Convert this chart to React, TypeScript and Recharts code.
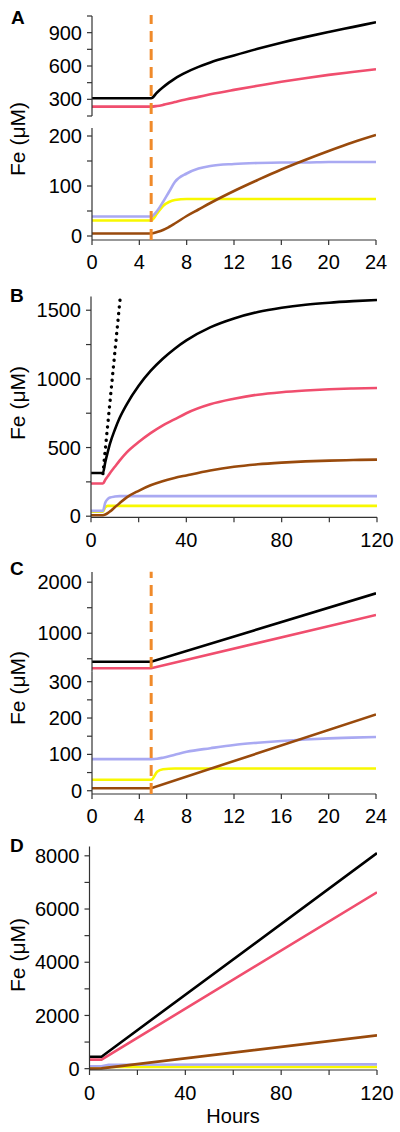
import React from 'react';
import { LineChart, Line, XAxis, YAxis } from 'recharts';

// ---------- data (Fe in µM vs hours) ----------
const treatmentHour = 5;

// Panel A
const hoursA = [0, 5, 5.5, 6, 6.5, 7, 8, 9, 10, 12, 14, 16, 18, 20, 22, 24];
const blackA = [310, 310, 362, 408, 450, 487, 545, 592, 632, 695, 755, 810, 860, 906, 950, 994];
const pinkA = [234, 234, 240, 250, 262, 275, 300, 322, 345, 385, 422, 458, 490, 520, 546, 571];
const lavenderA = [39, 39, 50, 68, 88, 108, 125, 135, 140, 144, 146, 147, 147, 148, 148, 148];
const yellowA = [31, 31, 45, 60, 68, 72, 74, 74, 74, 74, 74, 74, 74, 74, 74, 74];
const brownA = [5, 5, 8, 12, 18, 25, 40, 53, 66, 90, 112, 133, 152, 170, 187, 202];

// Panel B
const hoursB = [0, 5, 6, 7, 8, 10, 12, 15, 20, 25, 30, 35, 40, 50, 60, 70, 80, 90, 100, 110, 120];
const blackB = [315, 315, 395, 465, 530, 630, 715, 815, 950, 1058, 1145, 1218, 1280, 1375, 1440, 1487, 1518, 1540, 1555, 1566, 1575];
const pinkB = [238, 238, 265, 290, 315, 360, 405, 465, 540, 605, 660, 705, 750, 815, 855, 885, 903, 915, 924, 930, 934];
const brownB = [7, 7, 12, 22, 35, 65, 95, 137, 185, 225, 255, 278, 297, 333, 360, 378, 390, 399, 405, 409, 412];
const lavenderB = [39, 39, 100, 125, 136, 143, 146, 146, 146, 146, 146, 146, 146, 146, 146, 146, 146, 146, 146, 146, 146];
const yellowB = [33, 33, 65, 75, 75, 75, 75, 75, 75, 75, 75, 75, 75, 75, 75, 75, 75, 75, 75, 75, 75];
const dottedHoursB = [5, 12.3];
const dottedB = [310, 1600];

// Panel C
const kinkHoursC = [0, 5, 24];
const blackC = [442, 442, 1783];
const pinkC = [313, 313, 1359];
const brownC = [7, 7, 210];
const hoursC = [0, 5, 5.5, 6, 7, 8, 10, 12, 14, 16, 18, 20, 22, 24];
const lavenderC = [87, 87, 88, 91, 99, 107, 117, 126, 132, 137, 141, 144, 146, 148];
const yellowC = [30, 30, 52, 59, 61, 61, 61, 61, 61, 61, 61, 61, 61, 61];

// Panel D
const kinkHoursD = [0, 5, 120];
const blackD = [450, 450, 8100];
const pinkD = [340, 340, 6630];
const brownD = [0, 10, 1250];
const hoursDLow = [0, 5, 8, 120];
const lavenderD = [90, 90, 150, 160];
const yellowD = [30, 30, 60, 60];

// ticks
const xTicks24 = [0, 4, 8, 12, 16, 20, 24];
const xTicks120 = [0, 20, 40, 60, 80, 100, 120];
const yTicksATop = [150, 300, 450, 600, 750, 900, 1050];
const yTicksABottom = [0, 50, 100, 150, 200];
const yTicksB = [0, 250, 500, 750, 1000, 1250, 1500];
const yTicksCTop = [500, 1000, 1500, 2000];
const yTicksCBottom = [0, 50, 100, 150, 200, 250, 300];
const yTicksD = [0, 1000, 2000, 3000, 4000, 5000, 6000, 7000, 8000];

// ---------- styles ----------
const FONT = '"Liberation Sans", Arial, Helvetica, sans-serif';
const AXIS = '#333';
const C_BLACK = '#000000';
const C_PINK = '#f04e6e';
const C_LAV = '#a9a9f2';
const C_YEL = '#f8f800';
const C_BROWN = '#994a0c';
const C_ORANGE = '#f08a2a';

type Pt = { t: number; v: number };
const zip = (h: number[], v: number[]): Pt[] => h.map((t, i) => ({ t, v: v[i] }));

type Series = {
  data: Pt[];
  color: string;
  dash?: string;
  width?: number;
  key: string;
  curve?: 'monotone' | 'linear';
  cap?: 'round' | 'butt';
};

type StripProps = {
  plotTop: number;
  plotBottom: number;
  plotLeft: number;
  plotRight: number;
  xDomain: [number, number];
  xTicks: number[];
  xLabelStep: number;
  showX: boolean;
  xTickMargin?: number;
  yDomain: [number, number];
  yTicks: number[];
  yLabelStep: number;
  series: Series[];
};

function Strip(p: StripProps) {
  const xAxisH = 30;
  const height = p.showX ? p.plotBottom + xAxisH + 10 : p.plotBottom + 4;
  const margin = {
    top: p.plotTop,
    right: 400 - p.plotRight,
    left: 0,
    bottom: height - p.plotBottom - (p.showX ? xAxisH : 0),
  };
  const tickStyle = { fontSize: 20, fill: '#000', fontFamily: FONT };
  return (
    <div style={{ position: 'absolute', left: 0, top: 0, width: 400, height }}>
      <LineChart width={400} height={height} margin={margin}>
        <XAxis
          type="number"
          dataKey="t"
          domain={p.xDomain}
          ticks={p.xTicks}
          interval={0}
          allowDataOverflow
          hide={!p.showX}
          height={xAxisH}
          tickSize={5}
          tickMargin={p.xTickMargin ?? 10}
          tick={tickStyle}
          tickFormatter={(v: number) => (v % p.xLabelStep === 0 ? String(v) : '')}
          axisLine={{ stroke: AXIS, strokeWidth: 1.2 }}
          tickLine={{ stroke: AXIS, strokeWidth: 1.2 }}
        />
        <YAxis
          type="number"
          domain={p.yDomain}
          ticks={p.yTicks}
          interval={0}
          allowDataOverflow
          width={p.plotLeft}
          tickSize={5}
          tickMargin={5}
          tick={tickStyle}
          tickFormatter={(v: number) => (v % p.yLabelStep === 0 ? String(v) : '')}
          axisLine={{ stroke: AXIS, strokeWidth: 1.2 }}
          tickLine={{ stroke: AXIS, strokeWidth: 1.2 }}
        />
        {p.series.map((s) => (
          <Line
            key={s.key}
            data={s.data}
            dataKey="v"
            type={s.curve ?? 'monotone'}
            stroke={s.color}
            strokeWidth={s.width ?? 2.6}
            strokeDasharray={s.dash}
            strokeLinecap={s.cap ?? 'butt'}
            dot={false}
            activeDot={false}
            isAnimationActive={false}
          />
        ))}
      </LineChart>
    </div>
  );
}

function DashOverlay(p: { top: number; bottom: number; left: number; right: number; xDomain: [number, number] }) {
  const height = p.bottom + 2;
  return (
    <div style={{ position: 'absolute', left: 0, top: 0, width: 400, height }}>
      <LineChart
        width={400}
        height={height}
        margin={{ top: p.top, bottom: height - p.bottom, left: p.left, right: 400 - p.right }}
      >
        <XAxis type="number" dataKey="t" domain={p.xDomain} allowDataOverflow hide />
        <YAxis type="number" domain={[0, 1]} allowDataOverflow hide />
        <Line
          data={zip([treatmentHour, treatmentHour], [0, 1])}
          dataKey="v"
          type="linear"
          stroke={C_ORANGE}
          strokeWidth={3}
          strokeDasharray="11 7"
          dot={false}
          activeDot={false}
          isAnimationActive={false}
        />
      </LineChart>
    </div>
  );
}

export default function App() {
  const lowA: Series[] = [
    { key: 'yA', data: zip(hoursA, yellowA), color: C_YEL },
    { key: 'lA', data: zip(hoursA, lavenderA), color: C_LAV },
    { key: 'bA', data: zip(hoursA, brownA), color: C_BROWN },
  ];
  const highA: Series[] = [
    { key: 'pA', data: zip(hoursA, pinkA), color: C_PINK },
    { key: 'kA', data: zip(hoursA, blackA), color: C_BLACK },
  ];
  const seriesB: Series[] = [
    { key: 'yB', data: zip(hoursB, yellowB), color: C_YEL },
    { key: 'lB', data: zip(hoursB, lavenderB), color: C_LAV },
    { key: 'bB', data: zip(hoursB, brownB), color: C_BROWN },
    { key: 'pB', data: zip(hoursB, pinkB), color: C_PINK },
    { key: 'kB', data: zip(hoursB, blackB), color: C_BLACK },
    { key: 'dB', data: zip(dottedHoursB, dottedB), color: C_BLACK, dash: '0.1 6.6', width: 3.4, curve: 'linear', cap: 'round' },
  ];
  const lowC: Series[] = [
    { key: 'yC', data: zip(hoursC, yellowC), color: C_YEL },
    { key: 'lC', data: zip(hoursC, lavenderC), color: C_LAV },
    { key: 'bC', data: zip(kinkHoursC, brownC), color: C_BROWN, curve: 'linear' },
  ];
  const highC: Series[] = [
    { key: 'pC', data: zip(kinkHoursC, pinkC), color: C_PINK, curve: 'linear' },
    { key: 'kC', data: zip(kinkHoursC, blackC), color: C_BLACK, curve: 'linear' },
  ];
  const seriesD: Series[] = [
    { key: 'yD', data: zip(hoursDLow, yellowD), color: C_YEL, curve: 'linear' },
    { key: 'lD', data: zip(hoursDLow, lavenderD), color: C_LAV, curve: 'linear' },
    { key: 'bD', data: zip(kinkHoursD, brownD), color: C_BROWN, curve: 'linear' },
    { key: 'pD', data: zip(kinkHoursD, pinkD), color: C_PINK, curve: 'linear' },
    { key: 'kD', data: zip(kinkHoursD, blackD), color: C_BLACK, curve: 'linear' },
  ];

  const feLabel = (cy: number) => (
    <text
      x={25}
      y={cy}
      transform={`rotate(-90 25 ${cy})`}
      textAnchor="middle"
      fontSize={21}
      fontFamily={FONT}
      fill="#000"
    >
      Fe (μM)
    </text>
  );
  const panelLetter = (ch: string, x: number, y: number) => (
    <text x={x} y={y} fontSize={19} fontWeight="bold" fontFamily={FONT} fill="#000">
      {ch}
    </text>
  );

  return (
    <div style={{ position: 'absolute', left: 0, top: 0, width: 400, height: 1132, background: '#fff', overflow: 'hidden' }}>
      {/* Panel A */}
      <Strip plotTop={16} plotBottom={116} plotLeft={92} plotRight={376} xDomain={[0, 24]} xTicks={xTicks24} xLabelStep={4}
        showX={false} yDomain={[150, 1050]} yTicks={yTicksATop} yLabelStep={300} series={highA} />
      <Strip plotTop={128} plotBottom={240} plotLeft={92} plotRight={376} xDomain={[0, 24]} xTicks={xTicks24} xLabelStep={4}
        showX xTickMargin={10} yDomain={[-8, 216]} yTicks={yTicksABottom} yLabelStep={100} series={lowA} />
      <DashOverlay top={15} bottom={240} left={92} right={376} xDomain={[0, 24]} />

      {/* Panel B */}
      <Strip plotTop={296.5} plotBottom={517.3} plotLeft={91} plotRight={377} xDomain={[0, 120]} xTicks={xTicks120} xLabelStep={40}
        showX xTickMargin={11} yDomain={[-8, 1600]} yTicks={yTicksB} yLabelStep={500} series={seriesB} />

      {/* Panel C */}
      <Strip plotTop={572} plotBottom={671.5} plotLeft={92} plotRight={376} xDomain={[0, 24]} xTicks={xTicks24} xLabelStep={4}
        showX={false} yDomain={[250, 2200]} yTicks={yTicksCTop} yLabelStep={1000} series={highC} />
      <Strip plotTop={671.5} plotBottom={794} plotLeft={92} plotRight={376} xDomain={[0, 24]} xTicks={xTicks24} xLabelStep={4}
        showX xTickMargin={10} yDomain={[-9, 328]} yTicks={yTicksCBottom} yLabelStep={100} series={lowC} />
      <DashOverlay top={571.5} bottom={794} left={92} right={376} xDomain={[0, 24]} />

      {/* Panel D */}
      <Strip plotTop={846.5} plotBottom={1070} plotLeft={89.5} plotRight={377} xDomain={[0, 120]} xTicks={xTicks120} xLabelStep={40}
        showX xTickMargin={11} yDomain={[-50, 8350]} yTicks={yTicksD} yLabelStep={2000} series={seriesD} />

      {/* Text overlay */}
      <svg width={400} height={1132} style={{ position: 'absolute', left: 0, top: 0, pointerEvents: 'none' }}>
        {panelLetter('A', 11, 24)}
        {panelLetter('B', 10, 302)}
        {panelLetter('C', 10, 575)}
        {panelLetter('D', 10, 852)}
        {feLabel(139)}
        {feLabel(403)}
        {feLabel(688)}
        {feLabel(955)}
        <text x={233} y={1123} textAnchor="middle" fontSize={20} fontFamily={FONT} fill="#000">
          Hours
        </text>
      </svg>
    </div>
  );
}
